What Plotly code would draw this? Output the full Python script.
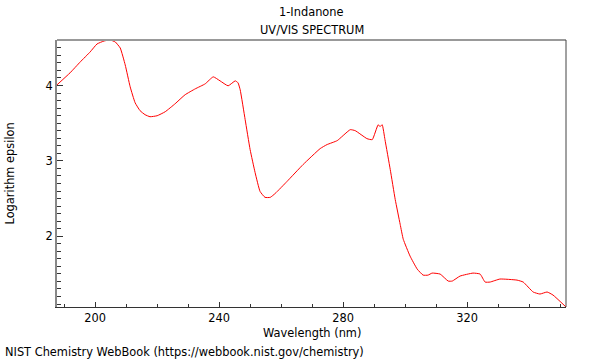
import plotly.graph_objects as go

wavelength_nm = [187.7, 191.9, 195.2, 198.4, 200.6, 202.9, 204.8, 206.5, 208.1, 209.7,
                 211.3, 212.9, 214.5, 216.1, 217.7, 220.0, 222.6, 225.8, 229.0, 232.3,
                 235.5, 238.1, 240.3, 242.9, 245.2, 246.1, 246.8, 248.4, 250.0, 251.6,
                 253.2, 254.8, 256.5, 258.1, 261.9, 267.1, 272.6, 274.8, 278.1, 282.3,
                 283.9, 287.7, 289.4, 291.3, 291.9, 292.6, 293.5, 295.2, 296.8, 298.4,
                 299.4, 301.6, 303.9, 305.8, 307.4, 308.7, 311.3, 313.9, 315.2, 317.7,
                 321.9, 324.2, 325.8, 327.4, 330.6, 336.1, 338.1, 341.3, 343.5, 345.8,
                 347.7, 351.9]
log_epsilon = [4.009, 4.168, 4.313, 4.446, 4.551, 4.591, 4.604, 4.578, 4.498, 4.274,
               3.983, 3.771, 3.666, 3.613, 3.586, 3.599, 3.652, 3.758, 3.877, 3.956,
               4.022, 4.115, 4.062, 3.996, 4.062, 4.036, 3.943, 3.547, 3.150, 2.846,
               2.595, 2.516, 2.516, 2.568, 2.727, 2.952, 3.163, 3.216, 3.269, 3.414,
               3.401, 3.295, 3.282, 3.480, 3.454, 3.480, 3.282, 2.886, 2.489, 2.159,
               1.960, 1.736, 1.564, 1.484, 1.484, 1.511, 1.498, 1.405, 1.405, 1.471,
               1.511, 1.498, 1.392, 1.392, 1.432, 1.418, 1.392, 1.260, 1.233, 1.260,
               1.220, 1.061]

x_ticks = [200, 240, 280, 320]
y_ticks = [2, 3, 4]

FONT = "DejaVu Sans"
FS = 11.4

fig = go.Figure()
fig.add_trace(go.Scatter(x=wavelength_nm, y=log_epsilon, mode="lines",
                         line=dict(color="#ff0000", width=1, shape="spline", smoothing=0.4),
                         hoverinfo="skip", showlegend=False))

fig.update_layout(
    width=600, height=360,
    margin=dict(l=57, r=34, t=40, b=53),
    paper_bgcolor="white", plot_bgcolor="white",
    font=dict(family=FONT, size=FS, color="black"),
    showlegend=False,
    xaxis=dict(range=[min(wavelength_nm), max(wavelength_nm)], tickvals=x_ticks,
               ticktext=[str(v) for v in x_ticks], automargin=False,
               ticks="inside", ticklen=5, tickcolor="#333", tickwidth=1,
               tickfont=dict(size=FS),
               minor=dict(dtick=10, tick0=200, ticks="inside", ticklen=3, tickcolor="#333"),
               showgrid=False, zeroline=False, showline=True, linecolor="#333", linewidth=1),
    yaxis=dict(range=[min(log_epsilon), max(log_epsilon)], tickvals=y_ticks,
               ticktext=[str(v) for v in y_ticks], automargin=False,
               ticks="inside", ticklen=6, tickcolor="#333", tickwidth=1,
               tickfont=dict(size=FS),
               minor=dict(dtick=0.1, tick0=2, ticks="inside", ticklen=4, tickcolor="#333"),
               showgrid=False, zeroline=False, showline=True, linecolor="#888", linewidth=2),
)

fig.add_shape(type="line", xref="paper", yref="paper", x0=0, x1=1, y0=1, y1=1,
              line=dict(color="#999", width=2))
fig.add_shape(type="line", xref="paper", yref="paper", x0=1, x1=1, y0=0, y1=1,
              line=dict(color="#444", width=1))

fig.add_annotation(text="1-Indanone", xref="paper", yref="paper", x=0.5, y=1,
                   yshift=28, showarrow=False, font=dict(size=FS), yanchor="middle")
fig.add_annotation(text="UV/VIS SPECTRUM", xref="paper", yref="paper", x=0.5, y=1,
                   yshift=10, showarrow=False, font=dict(size=FS), yanchor="middle")
fig.add_annotation(text="Wavelength (nm)", xref="paper", yref="paper", x=0.5, y=0,
                   yshift=-26, showarrow=False, font=dict(size=FS), yanchor="middle")
fig.add_annotation(text="Logarithm epsilon", xref="paper", yref="paper", x=0, y=0.5,
                   xshift=-48, textangle=-90, showarrow=False, font=dict(size=FS),
                   xanchor="center", yanchor="middle")
fig.add_annotation(text="NIST Chemistry WebBook (https://webbook.nist.gov/chemistry)",
                   xref="paper", yref="paper", x=0, y=0, xshift=-54, yshift=-45,
                   xanchor="left", yanchor="middle", showarrow=False, font=dict(size=FS))

fig.write_html("out.html", config={"displayModeBar": False},
               post_script="document.body.style.margin='0';document.body.style.overflow='hidden';")
